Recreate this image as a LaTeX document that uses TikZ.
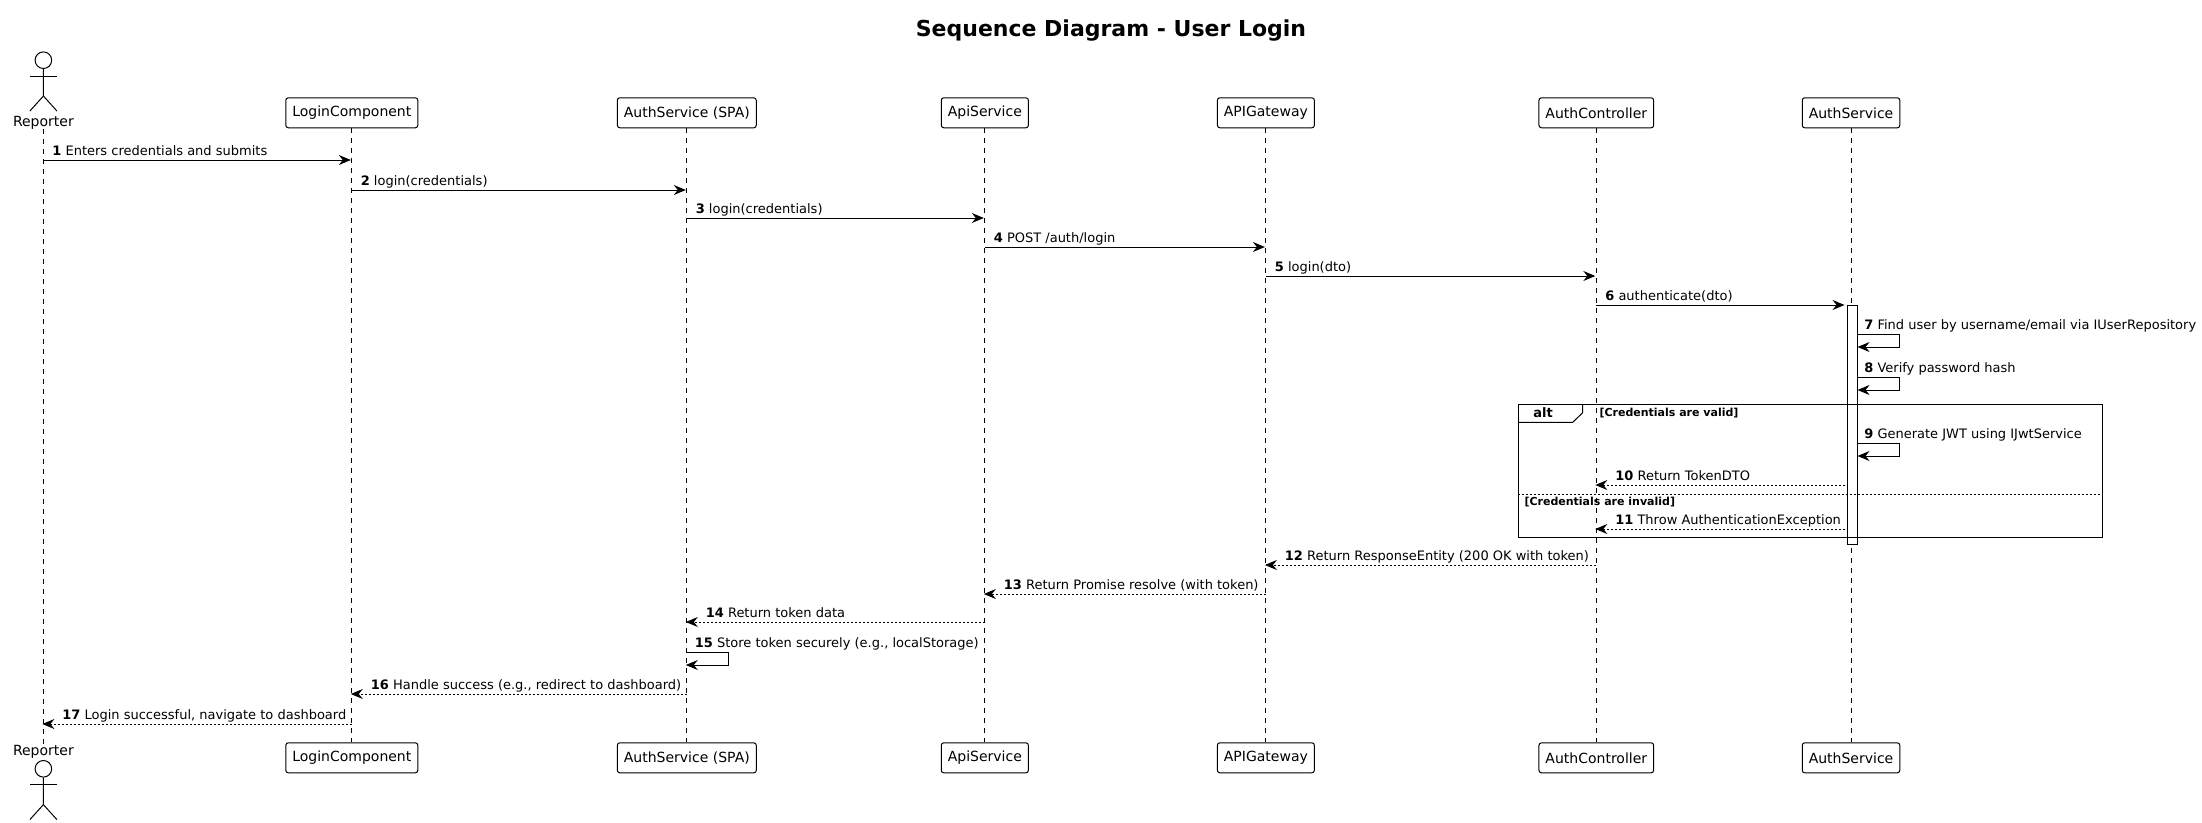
\documentclass[tikz,border=0pt]{standalone}
\usepackage{fontspec}
\setmainfont{DejaVu Sans}
\usetikzlibrary{arrows.meta,positioning}
\begin{document}
\begin{tikzpicture}[
  x=1pt, y=-1pt,
  line width=1pt,
  >={Stealth[length=12pt,width=10pt,inset=4pt]},
  part/.style={rectangle, rounded corners=2.5pt, draw, fill=white, font=\fontsize{14}{16}\selectfont, minimum height=30pt, inner sep=0pt, inner xsep=6.5pt},
  actorname/.style={font=\fontsize{14}{16}\selectfont, inner sep=0pt, text height=11.5pt, text depth=2pt},
  head/.style={circle, draw, minimum size=16.6pt, inner sep=0pt},
  lifeline/.style={dash pattern=on 5pt off 5pt},
  msg/.style={font=\fontsize{13}{15}\selectfont, inner sep=0pt, anchor=base west, yshift=5pt},
  guard/.style={font=\fontsize{11}{13}\selectfont\bfseries, inner sep=0pt, anchor=base west},
  call/.style={->, shorten >=1pt},
  reply/.style={->, shorten >=-1pt, dash pattern=on 2pt off 2pt},
  divider/.style={dash pattern=on 2pt off 2pt}
]
\useasboundingbox (0,0) rectangle (2202,822);
\node[font=\fontsize{22}{26}\selectfont\bfseries] (title) at (1111,31) {Sequence Diagram - User Login};
% participants, top row
\node[actorname, anchor=north] (reporter) at (43.4,114.5) {Reporter};
\node[part, right=211pt of reporter.south east, anchor=south west, yshift=0.7pt] (login) {LoginComponent};
\node[part, right=198.5pt of login] (spa) {AuthService (SPA)};
\node[part, right=184pt of spa] (api) {ApiService};
\node[part, right=188pt of api] (gateway) {APIGateway};
\node[part, right=223.6pt of gateway] (controller) {AuthController};
\node[part, right=147.6pt of controller] (service) {AuthService};
% participants, bottom row
\node[actorname, below=614.5pt of reporter] (reporterend) {Reporter};
\node[part, below=614pt of login] (loginend) {LoginComponent};
\node[part, below=614pt of spa] (spaend) {AuthService (SPA)};
\node[part, below=614pt of api] (apiend) {ApiService};
\node[part, below=614pt of gateway] (gatewayend) {APIGateway};
\node[part, below=614pt of controller] (controllerend) {AuthController};
\node[part, below=614pt of service] (serviceend) {AuthService};
% actors
\node[head, above=45.5pt of reporter.north] (headtop) {};
\draw (headtop.south) -- ++(0,27) coordinate (hiptop) -- ++(-13.5,15);
\draw (hiptop) -- ++(13.5,15);
\draw (headtop.south) ++(-13.5,7) -- ++(27,0);
\node[head, below=2pt of reporterend.south] (headend) {};
\draw (headend.south) -- ++(0,27) coordinate (hipend) -- ++(-13.5,15);
\draw (hipend) -- ++(13.5,15);
\draw (headend.south) ++(-13.5,7) -- ++(27,0);
% lifelines
\foreach \a/\b in {reporter/reporterend, login/loginend, spa/spaend, api/apiend, gateway/gatewayend, controller/controllerend, service/serviceend}
  \draw[lifeline] (\a) -- (\b);
% activation
\node[rectangle, draw, fill=white, minimum width=10pt, minimum height=239pt, inner sep=0pt, anchor=north, xshift=1pt] (bar) at (service |- 0,305) {};
% rows
\coordinate (r1) at (0,160);
\coordinate (r2) at (0,190);
\coordinate (r3) at (0,218);
\coordinate (r4) at (0,247);
\coordinate (r5) at (0,276);
\coordinate (r6) at (0,305);
\coordinate (r7) at (0,334);
\coordinate (r7b) at (0,347);
\coordinate (r8) at (0,377);
\coordinate (r8b) at (0,390);
\coordinate (r9) at (0,443);
\coordinate (r9b) at (0,456);
\coordinate (r10) at (0,485);
\coordinate (r11) at (0,529);
\coordinate (r12) at (0,565);
\coordinate (r13) at (0,594);
\coordinate (r14) at (0,622);
\coordinate (r15) at (0,652);
\coordinate (r15b) at (0,665);
\coordinate (r16) at (0,694);
\coordinate (r17) at (0,724);
% messages
\draw[call] (reporter |- r1) -- (login |- r1);
\draw[call] (login |- r2) -- (spa |- r2);
\draw[call] (spa |- r3) -- (api |- r3);
\draw[call] (api |- r4) -- (gateway |- r4);
\draw[call] (gateway |- r5) -- (controller |- r5);
\draw[call, shorten >=2pt] (controller |- r6) -- (bar.west |- r6);
\draw[call, shorten >=0pt] (bar.east |- r7) -- ++(42,0) |- (bar.east |- r7b);
\draw[call, shorten >=0pt] (bar.east |- r8) -- ++(42,0) |- (bar.east |- r8b);
\draw[call, shorten >=0pt] (bar.east |- r9) -- ++(42,0) |- (bar.east |- r9b);
\draw[reply, shorten <=2pt] (bar.west |- r10) -- (controller |- r10);
\draw[reply, shorten <=2pt] (bar.west |- r11) -- (controller |- r11);
\draw[reply] (controller |- r12) -- (gateway |- r12);
\draw[reply] (gateway |- r13) -- (api |- r13);
\draw[reply] (api |- r14) -- (spa |- r14);
\draw[call, shorten >=-1pt] (spa |- r15) -- ++(42,0) |- (spa |- r15b);
\draw[reply] (spa |- r16) -- (login |- r16);
\draw[reply] (login |- r17) -- (reporter |- r17);
% labels
\node[msg, xshift=8.5pt] (m1) at (reporter |- r1) {\textbf{1} Enters credentials and submits};
\node[msg, xshift=8.5pt] (m2) at (login |- r2) {\textbf{2} login(credentials)};
\node[msg, xshift=8.5pt] (m3) at (spa |- r3) {\textbf{3} login(credentials)};
\node[msg, xshift=8.5pt] (m4) at (api |- r4) {\textbf{4} POST /auth/login};
\node[msg, xshift=8.5pt] (m5) at (gateway |- r5) {\textbf{5} login(dto)};
\node[msg, xshift=8.5pt] (m6) at (controller |- r6) {\textbf{6} authenticate(dto)};
\node[msg, xshift=6.3pt] (m7) at (bar.east |- r7) {\textbf{7} Find user by username/email via IUserRepository};
\node[msg, xshift=6.3pt] (m8) at (bar.east |- r8) {\textbf{8} Verify password hash};
\node[msg, xshift=6.3pt] (m9) at (bar.east |- r9) {\textbf{9} Generate JWT using IJwtService};
\node[msg, xshift=18.5pt] (m10) at (controller |- r10) {\textbf{10} Return TokenDTO};
\node[msg, xshift=18.5pt] (m11) at (controller |- r11) {\textbf{11} Throw AuthenticationException};
\node[msg, xshift=18.5pt] (m12) at (gateway |- r12) {\textbf{12} Return ResponseEntity (200 OK with token)};
\node[msg, xshift=18.5pt] (m13) at (api |- r13) {\textbf{13} Return Promise resolve (with token)};
\node[msg, xshift=18.5pt] (m14) at (spa |- r14) {\textbf{14} Return token data};
\node[msg, xshift=7.5pt] (m15) at (spa |- r15) {\textbf{15} Store token securely (e.g., localStorage)};
\node[msg, xshift=18.5pt] (m16) at (login |- r16) {\textbf{16} Handle success (e.g., redirect to dashboard)};
\node[msg, xshift=18.5pt] (m17) at (reporter |- r17) {\textbf{17} Login successful, navigate to dashboard};
% alt frame
\node[rectangle, draw, minimum width=584pt, minimum height=133pt, inner sep=0pt, anchor=north west] (altframe) at (1518,404) {};
\draw (altframe.north west) ++(64.7,0) -- ++(0,8.7) -- ++(-10,9.6) -- ++(-54.7,0);
\node[font=\fontsize{13}{15}\selectfont\bfseries, inner sep=0pt, anchor=base] (altname) at (1543,417.7) {alt};
\node[guard] (guardvalid) at (1599,416.7) {[Credentials are valid]};
\coordinate (divrow) at (0,494.3);
\draw[divider] (altframe.west |- divrow) -- (altframe.east |- divrow);
\node[guard] (guardinvalid) at (1524,505) {[Credentials are invalid]};
\end{tikzpicture}
\end{document}
